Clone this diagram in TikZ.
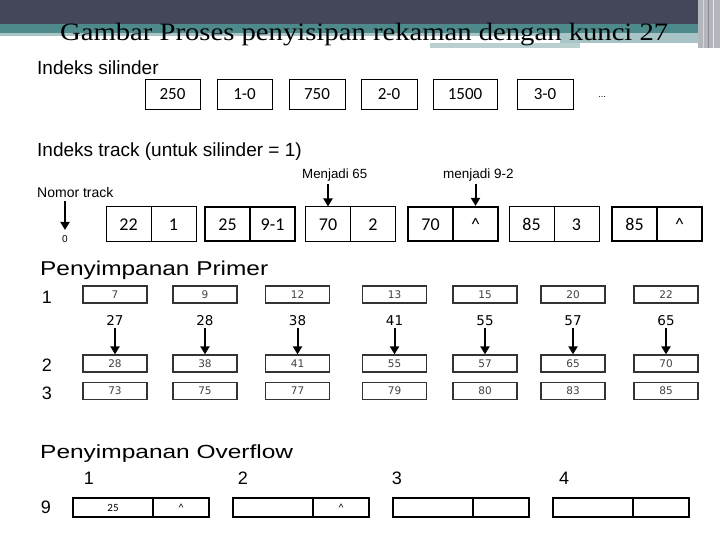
\documentclass[tikz,border=0pt]{standalone}
\usepackage{fontspec}
\usepackage{graphicx}
\setmainfont{Liberation Sans}
\newfontfamily\carfont{Carlito}
\newfontfamily\dvfont{DejaVu Sans}
\newfontfamily\serfont{Liberation Serif}
\usetikzlibrary{arrows.meta}
\definecolor{hdark}{HTML}{44475A}
\definecolor{hteal}{HTML}{4E898C}
\definecolor{hlight}{HTML}{A8C4C6}
\definecolor{hgrey}{HTML}{B4B6BE}
\tikzset{
 cyl/.style={draw, line width=1pt, minimum height=30pt, inner sep=0pt, text height=11pt, text depth=0pt, font=\carfont\fontsize{17}{17}\selectfont},
 trk/.style={draw, line width=1pt, minimum width=45pt, minimum height=34pt, inner sep=0pt, text height=12pt, text depth=0pt, font=\carfont\fontsize{18}{18}\selectfont},
 trkb/.style={trk, line width=2.2pt},
 pri/.style={draw=black!80, line width=1.3pt, minimum width=64pt, minimum height=17pt, inner sep=0pt, text height=7.5pt, text depth=0pt, font=\dvfont\fontsize{10.5}{10.5}\selectfont, text=black!75},
 klab/.style={font=\dvfont\fontsize{13.5}{13.5}\selectfont, inner sep=0pt, text height=10pt, text depth=0pt},
 arr/.style={line width=2pt, -{Triangle[length=8pt,width=9pt]}},
 ovfl/.style={draw, line width=2pt, minimum width=80pt, minimum height=19pt, inner sep=0pt, text height=7.5pt, text depth=0pt, font=\carfont\fontsize{11}{11}\selectfont},
 ovfr/.style={ovfl, minimum width=56pt},
 rowlab/.style={font=\fontsize{18}{18}\selectfont, inner sep=0pt, text height=13pt, text depth=0pt},
 lab/.style={inner sep=0pt, anchor=base west},
}
\begin{document}
\begin{tikzpicture}[x=1pt,y=-1pt]
\useasboundingbox (0,0) rectangle (720,540);
% header
\fill[hdark] (0,0) rectangle (720,24);
\fill[hteal] (0,24) rectangle (720,33);
\fill[hlight] (0,33) rectangle (720,36);
\fill[hlight] (560,36) rectangle (720,43);
\fill[hlight!80] (430,43) rectangle (580,48);
\fill[hgrey] (698,0) rectangle (720,48);
\draw[white!85!black, line width=1pt] (703,0) -- (703,48);
\draw[black!45, line width=1pt] (708,0) -- (708,48);
\draw[white!90!black, line width=1pt] (713,0) -- (713,48);
\node[lab] (title) at (60,41) {\resizebox{608pt}{\height}{\serfont\fontsize{25}{25}\selectfont Gambar Proses penyisipan rekaman dengan kunci 27}};

% cylinder index
\node[lab, font=\fontsize{19}{19}\selectfont] (hsil) at (37,75) {Indeks silinder};
\node[cyl, minimum width=55pt] (c1) at (172.5,94.5) {250};
\node[cyl, minimum width=55pt] (c2) at (244.5,94.5) {1-0};
\node[cyl, minimum width=56pt] (c3) at (317,94.5) {750};
\node[cyl, minimum width=56pt] (c4) at (389,94.5) {2-0};
\node[cyl, minimum width=64pt] (c5) at (465,94.5) {1500};
\node[cyl, minimum width=56pt] (c6) at (545,94.5) {3-0};
\node[font=\fontsize{9}{9}\selectfont, inner sep=0pt] (dots) at (602,97) {...};

% track index
\node[lab, font=\fontsize{19}{19}\selectfont] (htrk) at (37,157) {Indeks track (untuk silinder = 1)};
\node[lab, font=\fontsize{14}{14}\selectfont] (nt) at (37,198) {Nomor track};
\node[font=\fontsize{10}{10}\selectfont, inner sep=0pt] (zero) at (65,239) {0};
\draw[arr] (zero |- nt.south) ++(0,3) -- (65,230);
\node[trk] (t1l) at (128.5,224) {22};
\node[trk] (t1r) at (173.5,224) {1};
\node[trkb] (t2l) at (227.5,224) {25};
\node[trkb] (t2r) at (272.5,224) {9-1};
\node[trk] (t3l) at (328,224) {70};
\node[trk] (t3r) at (373,224) {2};
\node[trkb] (t4l) at (430.5,224) {70};
\node[trkb] (t4r) at (475.5,224) {\^{}};
\node[trk] (t5l) at (531.5,224) {85};
\node[trk] (t5r) at (576.5,224) {3};
\node[trkb] (t6l) at (634.5,224) {85};
\node[trkb] (t6r) at (679.5,224) {\^{}};
\node[lab, font=\fontsize{13.3}{13.3}\selectfont] (m65) at (302,179) {Menjadi 65};
\node[lab, font=\fontsize{13.5}{13.5}\selectfont] (m92) at (443,179) {menjadi 9-2};
\draw[arr] (t3l |- m65.south) ++(0,2) -- (t3l.north);
\draw[arr] (t4r |- m92.south) ++(0,2) -- (t4r.north);

% primary storage
\node[lab] (hpri) at (40,275) {\resizebox{228pt}{\height}{\fontsize{20}{20}\selectfont Penyimpanan Primer}};
\node[rowlab] (r1) at (47,297) {1};
\node[rowlab] (r2) at (47,365) {2};
\node[rowlab] (r3) at (47,393) {3};
\foreach \i/\x/\a/\k/\b/\c in {1/115/7/27/28/73, 2/205/9/28/38/75, 3/297.5/12/38/41/77, 4/394.5/13/41/55/79, 5/485/15/55/57/80, 6/573/20/57/65/83, 7/666/22/65/70/85}{
  \node[pri] (p1\i) at (\x,294.5) {\a};
  \node[pri] (p2\i) at (\x,363.5) {\b};
  \node[pri] (p3\i) at (\x,391) {\c};
  \node[klab] (k\i) at (\x,320) {\k};
  \draw[arr] (p2\i |- k\i.south) ++(0,3) -- (p2\i.north);
}

% overflow storage
\node[lab] (hovf) at (40,458) {\resizebox{253pt}{\height}{\fontsize{19}{19}\selectfont Penyimpanan Overflow}};
\node[rowlab] (o1) at (89,478) {1};
\node[rowlab] (o2) at (243,478) {2};
\node[rowlab] (o3) at (397,478) {3};
\node[rowlab] (o4) at (564,478) {4};
\node[rowlab] (o9) at (46,507) {9};
\node[ovfl] (b1l) at (113,507.5) {25};
\node[ovfr] (b1r) at (181,507.5) {\^{}};
\node[ovfl] (b2l) at (273,507.5) {};
\node[ovfr] (b2r) at (341,507.5) {\^{}};
\node[ovfl] (b3l) at (433,507.5) {};
\node[ovfr] (b3r) at (501,507.5) {};
\node[ovfl] (b4l) at (593,507.5) {};
\node[ovfr] (b4r) at (661,507.5) {};
\end{tikzpicture}
\end{document}
